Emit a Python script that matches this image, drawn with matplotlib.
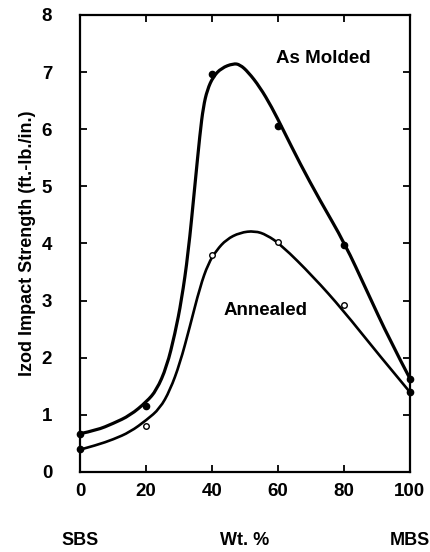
import matplotlib.pyplot as plt
from matplotlib.path import Path
from matplotlib.patches import PathPatch

plt.rcParams['font.family'] = ['Liberation Sans', 'DejaVu Sans']
plt.rcParams['font.weight'] = 'bold'

# measured data points
wt = [0, 20, 40, 60, 80, 100]
molded = [0.67, 1.15, 6.97, 6.05, 3.97, 1.63]
annealed = [0.40, 0.80, 3.80, 4.02, 2.93, 1.40]

# hand-drawn curves
molded_cx = [0, 5.05, 10.1, 15.2, 20.2, 23.2, 26.3, 28.8, 30.8, 32.8, 34.8, 36.4,
             37.4, 38.6, 40.4, 42.9, 46.5, 48.5, 51.0, 54.5, 58.1, 61.6, 66.7,
             72.7, 80.3, 86.9, 93.9, 100]
molded_cy = [0.67, 0.73, 0.85, 0.99, 1.23, 1.43, 1.84, 2.42, 3.01, 3.82, 4.99, 5.93,
             6.39, 6.69, 6.92, 7.07, 7.15, 7.13, 7.00, 6.74, 6.39, 5.99, 5.40,
             4.76, 4.00, 3.18, 2.31, 1.64]
annealed_cx = [0, 5.05, 10.1, 15.2, 20.2, 24.2, 27.3, 30.3, 33.3, 36.4, 38.9, 41.4,
               44.4, 48.5, 53.0, 56.6, 61.1, 70.7, 79.8, 89.9, 100]
annealed_cy = [0.39, 0.47, 0.57, 0.70, 0.91, 1.11, 1.43, 1.90, 2.54, 3.24, 3.65, 3.88,
               4.07, 4.19, 4.22, 4.15, 3.97, 3.42, 2.83, 2.10, 1.40]


# smooth curve through the read points (quadratic segments between midpoints)
def smooth_path(xs, ys):
    pts = list(zip(xs, ys))
    verts = [pts[0]]
    codes = [Path.MOVETO]
    for i in range(1, len(pts) - 1):
        mid = ((pts[i][0] + pts[i + 1][0]) / 2, (pts[i][1] + pts[i + 1][1]) / 2)
        if i == len(pts) - 2:
            mid = pts[-1]
        verts += [pts[i], mid]
        codes += [Path.CURVE3, Path.CURVE3]
    return Path(verts, codes)


fig = plt.figure(figsize=(4.3, 5.52), dpi=100)
ax = fig.add_axes([0.186, 0.145, 0.767, 0.828])

ax.add_patch(PathPatch(smooth_path(molded_cx, molded_cy), fill=False,
                       ec='black', lw=2.3, capstyle='round', joinstyle='round'))
ax.add_patch(PathPatch(smooth_path(annealed_cx, annealed_cy), fill=False,
                       ec='black', lw=1.9, capstyle='round', joinstyle='round'))

ax.plot(wt, molded, 'o', color='black', ms=4.5, clip_on=False, zorder=3)
ax.plot(wt[1:5], annealed[1:5], 'o', mfc='white', mec='black', ms=4, mew=1, zorder=3)
ax.plot([wt[0], wt[5]], [annealed[0], annealed[5]], 'o', color='black', ms=4.5,
        clip_on=False, zorder=3)

ax.text(73.7, 7.24, 'As Molded', ha='center', va='center', fontsize=13.5, fontweight='bold')
ax.text(56.3, 2.83, 'Annealed', ha='center', va='center', fontsize=13.5, fontweight='bold')

ax.set_xlim(0, 100)
ax.set_ylim(0, 8)
ax.set_xticks([0, 20, 40, 60, 80, 100])
ax.set_yticks(range(9))
ax.tick_params(direction='in', length=5, width=1.3, top=True, right=True,
               labelsize=13.5)
ax.tick_params(axis='x', pad=8)
ax.tick_params(axis='y', pad=20)
for s in ax.spines.values():
    s.set_linewidth(1.6)

ax.set_ylabel('Izod Impact Strength (ft.-lb./in.)', fontsize=13, fontweight='bold',
              labelpad=4)

for xpos, lab in [(0, 'SBS'), (0.5, 'Wt. %'), (1.0, 'MBS')]:
    ax.text(xpos, -0.168, lab, transform=ax.transAxes, ha='center', va='bottom',
            fontsize=13, fontweight='bold', clip_on=False)

fig.savefig('out.png', dpi=100)
